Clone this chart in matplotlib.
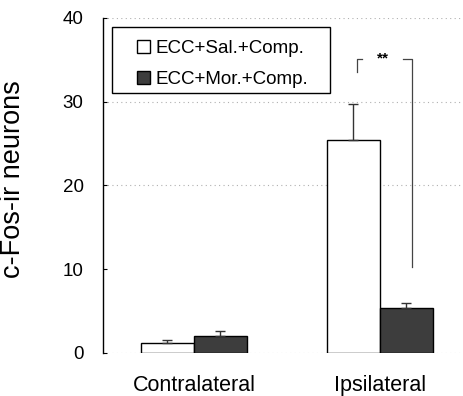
import matplotlib
matplotlib.use("Agg")
import matplotlib.pyplot as plt
from matplotlib.patches import Rectangle

plt.rcParams['font.family'] = ['Liberation Sans', 'DejaVu Sans']

groups = ["Contralateral", "Ipsilateral"]
series = ["ECC+Sal.+Comp.", "ECC+Mor.+Comp."]
saline_mean = [1.2, 25.4]
saline_sem = [0.3, 4.3]
morphine_mean = [2.0, 5.3]
morphine_sem = [0.6, 0.6]
y_ticks = [0, 10, 20, 30, 40]
grid_levels = [20, 30, 40]
significance = "**"

fig = plt.figure(figsize=(4.64, 3.96), dpi=100)
ax = fig.add_axes([0.222, 0.109, 0.778, 0.846])

x = list(range(len(groups)))
w = 0.285
x_sal = [i - w / 2 for i in x]
x_mor = [i + w / 2 for i in x]

for lvl in grid_levels:
    ax.axhline(lvl, color="#b0b0b0", lw=0.8, ls=(0, (1, 3)), zorder=0)
ax.axhline(0, color="#b0b0b0", lw=0.8, ls=(0, (1, 3)), zorder=0)

ax.bar(x_sal, saline_mean, width=w, color="white", edgecolor="black",
       linewidth=1.0, label=series[0], zorder=2)
ax.bar(x_mor, morphine_mean, width=w, color="#3d3d3d", edgecolor="black",
       linewidth=1.0, label=series[1], zorder=2)

ax.errorbar(x_sal, saline_mean, yerr=[[0] * len(x), saline_sem], fmt="none",
            ecolor="#333333", elinewidth=1.0, capsize=3.5, capthick=1.0, zorder=3)
ax.errorbar(x_mor, morphine_mean, yerr=[[0] * len(x), morphine_sem], fmt="none",
            ecolor="#333333", elinewidth=1.0, capsize=3.5, capthick=1.0, zorder=3)

# significance bracket between the two ipsilateral bars
bx0, bx1 = 0.876, 1.172
ytop = 35.1
ax.plot([bx0, bx0, 0.901], [33.5, ytop, ytop], color="#444444", lw=0.9)
ax.plot([1.124, bx1, bx1], [ytop, ytop, 10.2], color="#444444", lw=0.9)
ax.text(1.016, ytop, significance, ha="center", va="center", fontsize=11,
        fontweight="bold")

ax.set_xlim(-0.489, 1.452)
ax.set_ylim(0, 40)
ax.set_yticks(y_ticks)
ax.set_yticklabels([str(t) for t in y_ticks], fontsize=13.5)
ax.set_xticks(x)
ax.set_xticklabels(groups, fontsize=15.5)
ax.tick_params(axis="y", direction="in", length=3, pad=14, width=0.8)
ax.tick_params(axis="x", length=0, pad=16)
for s in ("top", "right", "bottom"):
    ax.spines[s].set_visible(False)
ax.spines["left"].set_linewidth(1.0)

ax.set_ylabel("c-Fos-ir neurons", fontsize=19.5)
ax.yaxis.set_label_coords(-0.212, 0.52)

# legend with a square frame
ax.add_patch(Rectangle((0.025, 0.776), 0.604, 0.197, transform=ax.transAxes,
                       fill=False, edgecolor="black", lw=1.0, zorder=4))
ax.legend(loc="upper left", bbox_to_anchor=(0.093, 0.934), frameon=False,
          fontsize=13.5, handlelength=0.7, handleheight=0.7, handletextpad=0.3,
          labelspacing=0.75, borderpad=0, borderaxespad=0)

fig.savefig("out.png", dpi=100)
